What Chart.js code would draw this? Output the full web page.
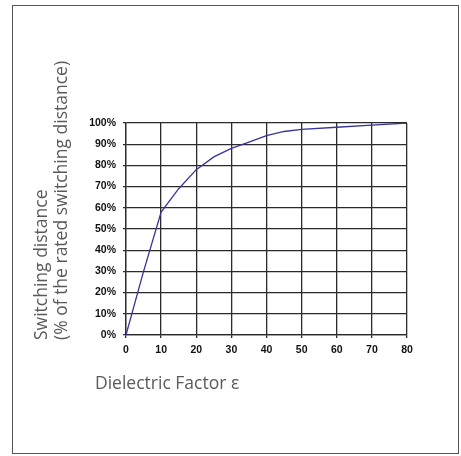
<!DOCTYPE html>
<html>
<head>
<meta charset="utf-8">
<script src="https://cdn.jsdelivr.net/npm/chart.js@4/dist/chart.umd.min.js"></script>
<style>
  html, body { margin: 0; padding: 0; background: #fff; }
  body { width: 461px; height: 456px; position: relative; overflow: hidden; }
  .frame { position: absolute; left: 12px; top: 5px; width: 445px; height: 447px; border: 1.5px solid #555; }
  #dielectricChart { position: absolute; left: 0; top: 0; }
</style>
</head>
<body>
<div class="frame"></div>
<canvas id="dielectricChart" width="461" height="456"></canvas>
<script>
// dielectric factor vs switching distance (% of rated)
const dielectric = [0, 5, 10, 15, 20, 25, 30, 35, 40, 45, 50, 60, 70, 80];
const distance = [0, 30, 58, 69, 78, 84, 88, 91, 94, 96, 97, 98, 99, 100];
const xTitle = 'Dielectric Factor ε';
const yTitle = ['Switching distance', '(% of the rated switching distance)'];

const titleFont = '400 17.5px "Open Sans", "DejaVu Sans", sans-serif';
const gridColor = '#2b2b2b';

// axis titles sit outside the plot box, so draw them ourselves
const axisTitles = {
  id: 'axisTitles',
  afterDraw(chart) {
    const ctx = chart.ctx;
    const area = chart.chartArea;
    ctx.save();
    ctx.fillStyle = '#5a5a5a';
    ctx.font = titleFont;
    ctx.textBaseline = 'middle';
    ctx.textAlign = 'left';
    ctx.fillText(xTitle, area.left - 31, area.bottom + 49);

    ctx.translate(area.left - 84, area.bottom + 5);
    ctx.rotate(-Math.PI / 2);
    yTitle.forEach((line, i) => {
      ctx.fillText(line, 0, i * 20);
    });
    ctx.restore();
  }
};

const ctx = document.getElementById('dielectricChart').getContext('2d');
new Chart(ctx, {
  type: 'line',
  data: {
    datasets: [
      {
        data: dielectric.map((x, i) => ({ x: x, y: distance[i] })),
        borderColor: '#35359a',
        borderWidth: 1.3,
        pointRadius: 0,
        tension: 0,
        fill: false,
      },
    ],
  },
  options: {
    responsive: false,
    animation: false,
    layout: { padding: { left: 0, right: 54, top: 123, bottom: 81 } },
    plugins: { legend: { display: false }, tooltip: { enabled: false } },
    scales: {
      x: {
        type: 'linear',
        min: 0,
        max: 80,
        afterFit: (s) => { s.height = 40; },
        ticks: {
          stepSize: 10,
          padding: 6,
          color: '#111',
          font: { family: '"Liberation Sans", Arial, sans-serif', size: 10.5, weight: 'bold' },
        },
        grid: { color: gridColor, lineWidth: 1.3, tickLength: 3 },
        border: { color: gridColor, width: 1.3 },
      },
      y: {
        min: 0,
        max: 100,
        afterFit: (s) => { s.width = 126; },
        ticks: {
          stepSize: 10,
          padding: 7,
          color: '#111',
          font: { family: '"Liberation Sans", Arial, sans-serif', size: 10.5, weight: 'bold' },
          callback: (v) => v + '%',
        },
        grid: { color: gridColor, lineWidth: 1.3, tickLength: 3 },
        border: { color: gridColor, width: 1.3 },
      },
    },
  },
  plugins: [axisTitles],
});
</script>
</body>
</html>
